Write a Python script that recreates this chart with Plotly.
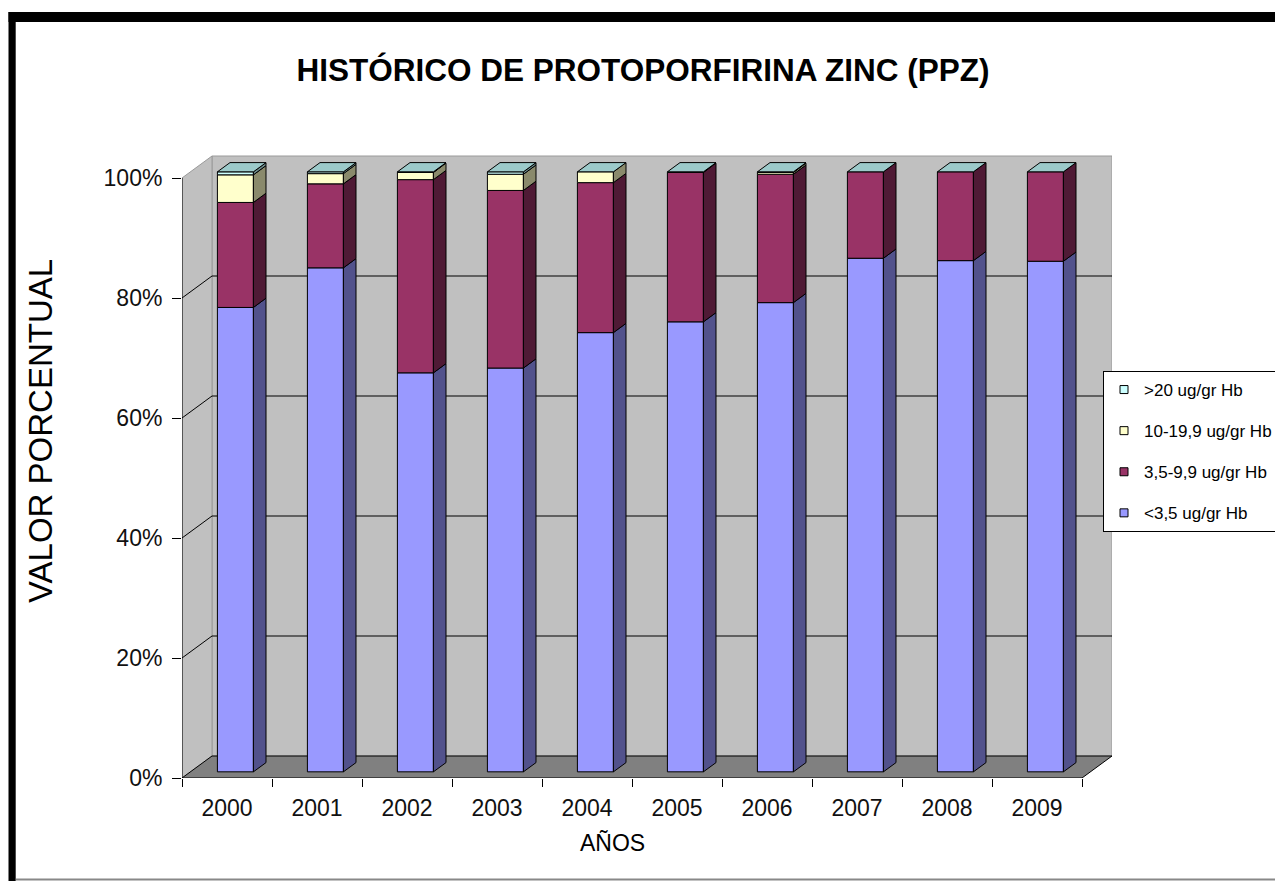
import plotly.graph_objects as go

# ---------------- data (percent of samples per year) ----------------
years = ["2000", "2001", "2002", "2003", "2004", "2005", "2006", "2007", "2008", "2009"]
lt35 = [77.4, 84.0, 66.5, 67.3, 73.2, 75.0, 78.2, 85.6, 85.2, 85.1]      # <3,5 ug/gr Hb
r35_99 = [17.5, 14.0, 32.2, 29.6, 25.0, 24.9, 21.4, 14.4, 14.8, 14.9]    # 3,5-9,9 ug/gr Hb
r10_199 = [4.6, 1.7, 1.2, 2.7, 1.8, 0.0, 0.3, 0.0, 0.0, 0.0]             # 10-19,9 ug/gr Hb
gt20 = [0.5, 0.3, 0.1, 0.4, 0.0, 0.1, 0.1, 0.0, 0.0, 0.0]                # >20 ug/gr Hb
names = ["<3,5 ug/gr Hb", "3,5-9,9 ug/gr Hb", "10-19,9 ug/gr Hb", ">20 ug/gr Hb"]
y_ticks = [0, 20, 40, 60, 80, 100]
y_ticktext = ["0%", "20%", "40%", "60%", "80%", "100%"]

series = [lt35, r35_99, r10_199, gt20]
front_cols = ["#9999FF", "#993366", "#FFFFCC", "#CCFFFF"]
side_cols = ["#52528C", "#4F1A35", "#8A8A6C", "#6E8C8C"]
top_col = "#9CCACA"

FONT = "Liberation Sans, Arial, sans-serif"

# ---------------- geometry (page pixels; page body has an 8px margin) ----------------
OFF = 8
W, H = 1283 - OFF, 881 - OFF
PLOT_L, PLOT_R, PLOT_T, PLOT_B = 182, 1112, 153, 778      # page px
L, T = PLOT_L - OFF, PLOT_T - OFF
R, B = W - (PLOT_R - OFF), H - (PLOT_B - OFF)
PXX, PXY = 90.0, 6.0
X0 = -0.5
XMAX = X0 + (W - L - R) / PXX
YMAX = (H - T - B) / PXY
DX, DY = 30 / PXX, 22 / PXY          # full depth of the 3-D box (data units)
F0, F1 = 0.28, 0.70                  # bar front / back depth fractions
BW = 0.4
ddx, ddy = (F1 - F0) * DX, (F1 - F0) * DY
NCAT = len(years)


def px2paper_x(p):
    return (p - PLOT_L) / (PLOT_R - PLOT_L)


def px2paper_y(p):
    return (PLOT_B - p) / (PLOT_B - PLOT_T)


fig = go.Figure()

cum = [0.0] * NCAT
for k, vals in enumerate(series):
    xs_front, ys_front, base_front = [], [], []
    sx, sy = [], []
    for i, v in enumerate(vals):
        b = cum[i] + F0 * DY
        if v > 0:
            xc = i + F0 * DX
            xs_front.append(xc)
            ys_front.append(v)
            base_front.append(b)
            xr = xc + BW / 2
            t = b + v
            sx += [xr, xr + ddx, xr + ddx, xr, xr, None]
            sy += [b, b + ddy, t + ddy, t, b, None]
        cum[i] += v
    fig.add_trace(go.Bar(
        x=xs_front, y=ys_front, base=base_front, width=BW,
        marker=dict(color=front_cols[k], line=dict(color="black", width=1)),
        showlegend=False, hoverinfo="skip"))
    fig.add_trace(go.Scatter(
        x=sx, y=sy, mode="lines", fill="toself", fillcolor=side_cols[k],
        line=dict(color="black", width=1), showlegend=False, hoverinfo="skip"))

# top faces (at the top of the stack)
tx, ty = [], []
for i in range(NCAT):
    xc = i + F0 * DX
    xl, xr = xc - BW / 2, xc + BW / 2
    tt = cum[i] + F0 * DY
    tx += [xl, xr, xr + ddx, xl + ddx, xl, None]
    ty += [tt, tt, tt + ddy, tt + ddy, tt, None]
fig.add_trace(go.Scatter(x=tx, y=ty, mode="lines", fill="toself", fillcolor=top_col,
                         line=dict(color="black", width=1), showlegend=False, hoverinfo="skip"))

# legend-only entries (small square symbols), top series first
for k in reversed(range(len(series))):
    fig.add_trace(go.Scatter(
        x=[None], y=[None], mode="markers", name=names[k], legendgroup=names[k],
        marker=dict(symbol="square", size=8, color=front_cols[k],
                    line=dict(color="black", width=1))))

# ---------------- 3-D walls, floor, gridlines ----------------
shapes = []
xl0, xr0 = X0, X0 + NCAT
shapes.append(dict(type="rect", xref="x", yref="y", x0=xl0 + DX, x1=xr0 + DX, y0=DY, y1=100 + DY,
                   fillcolor="#C0C0C0", line=dict(color="#9a9a9a", width=1), layer="below"))
shapes.append(dict(type="path", xref="x", yref="y",
                   path=f"M{xl0},0 L{xl0 + DX},{DY} L{xl0 + DX},{100 + DY} L{xl0},100 Z",
                   fillcolor="#C0C0C0", line=dict(color="#9a9a9a", width=1), layer="below"))
shapes.append(dict(type="path", xref="x", yref="y",
                   path=f"M{xl0},0 L{xr0},0 L{xr0 + DX},{DY} L{xl0 + DX},{DY} Z",
                   fillcolor="#808080", line=dict(color="black", width=1), layer="below"))
for v in y_ticks[1:-1]:
    shapes.append(dict(type="path", xref="x", yref="y",
                       path=f"M{xl0},{v} L{xl0 + DX},{v + DY} L{xr0 + DX},{v + DY}",
                       line=dict(color="black", width=1), layer="below"))
shapes.append(dict(type="line", xref="x", yref="y", x0=xl0, x1=xl0, y0=0, y1=100,
                   line=dict(color="black", width=1)))

# chart frame (paper coordinates)
shapes.append(dict(type="rect", xref="paper", yref="paper",
                   x0=px2paper_x(8.5), x1=px2paper_x(1300), y0=px2paper_y(22), y1=px2paper_y(12),
                   fillcolor="black", line=dict(width=0)))
shapes.append(dict(type="rect", xref="paper", yref="paper",
                   x0=px2paper_x(8.5), x1=px2paper_x(15.7), y0=px2paper_y(900), y1=px2paper_y(12),
                   fillcolor="black", line=dict(width=0)))
shapes.append(dict(type="line", xref="paper", yref="paper",
                   x0=px2paper_x(16), x1=px2paper_x(1300), y0=px2paper_y(879.5), y1=px2paper_y(879.5),
                   line=dict(color="#888888", width=2)))

annotations = [
    dict(text="AÑOS", xref="paper", yref="paper", x=px2paper_x(612), y=px2paper_y(843),
         xanchor="center", yanchor="middle", showarrow=False,
         font=dict(family=FONT, size=23, color="black")),
    dict(text="VALOR PORCENTUAL", xref="paper", yref="paper", x=px2paper_x(40), y=px2paper_y(431),
         xanchor="center", yanchor="middle", showarrow=False, textangle=-90,
         font=dict(family=FONT, size=33, color="black")),
]

fig.update_layout(
    width=W, height=H,
    margin=dict(l=L, r=R, t=T, b=B, autoexpand=False),
    paper_bgcolor="white", plot_bgcolor="white",
    barmode="overlay",
    title=dict(text="<b>HISTÓRICO DE PROTOPORFIRINA ZINC (PPZ)</b>",
               x=(643 - OFF) / W, xanchor="center", y=1 - (70 - OFF) / H, yanchor="middle",
               font=dict(family=FONT, size=31.5, color="black")),
    font=dict(family=FONT, color="black"),
    xaxis=dict(range=[X0, XMAX], tickmode="array", tickvals=list(range(NCAT)), ticktext=years,
               ticks="outside", ticklen=9, tickcolor="rgba(0,0,0,0)",
               minor=dict(tickmode="array", tickvals=[i - 0.5 for i in range(NCAT + 1)],
                          ticks="outside", ticklen=8, tickcolor="black", tickwidth=1),
               showgrid=False, zeroline=False, showline=False, automargin=False,
               tickfont=dict(size=23, color="#111111"), fixedrange=True),
    yaxis=dict(range=[0, YMAX], tickmode="array", tickvals=y_ticks, ticktext=y_ticktext,
               ticks="outside", ticklen=9, tickcolor="black", tickwidth=1, ticklabelstandoff=5,
               showgrid=False, zeroline=False, showline=False, automargin=False,
               tickfont=dict(size=23, color="#111111"), fixedrange=True),
    legend=dict(x=px2paper_x(1103), y=px2paper_y(371), xanchor="left", yanchor="top",
                bgcolor="white", bordercolor="black", borderwidth=1,
                font=dict(size=17, color="black"), traceorder="grouped",
                tracegroupgap=16, itemwidth=30),
    shapes=shapes,
    annotations=annotations,
)

fig.write_html("out.html")
